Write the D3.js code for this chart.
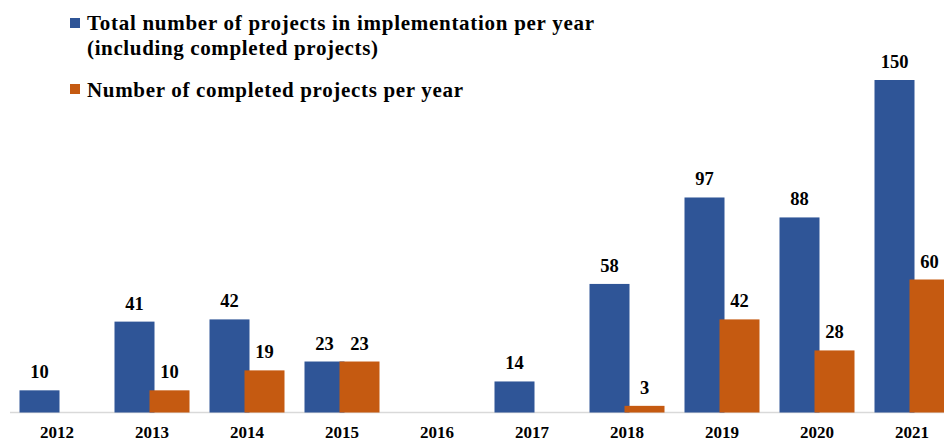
<!DOCTYPE html>
<html><head><meta charset="utf-8">
<script src="https://cdn.jsdelivr.net/npm/d3@7"></script>
<style>html,body{margin:0;padding:0;background:#fff;}svg{display:block;}</style>
</head><body>
<svg id="chart" width="944" height="441"></svg>
<script>
const years = ["2012","2013","2014","2015","2016","2017","2018","2019","2020","2021"];
const totalProjects = [10, 41, 42, 23, null, 14, 58, 97, 88, 150];
const completedProjects = [null, 10, 19, 23, null, null, 3, 42, 28, 60];
const seriesNames = ["Total number of projects in implementation per year", "(including completed projects)", "Number of completed projects per year"];
const colors = {total: "#2F5597", completed: "#C55A11"};

const svg = d3.select("#chart");
const FONT = "Liberation Serif";

const x = d3.scaleBand().domain(years).range([9.5, 959.5]).paddingInner(0).paddingOuter(0);
const y = d3.scaleLinear().domain([0, 150]).range([412.5, 80]);
const bw = 40;

svg.append("line").attr("x1", 10).attr("x2", 944).attr("y1", 412.5).attr("y2", 412.5)
  .attr("stroke", "#d9d9d9").attr("stroke-width", 1.5);

const cx = d => x(d) + x.bandwidth() / 2;

const totData = years.map((yr, i) => ({yr, v: totalProjects[i]})).filter(d => d.v != null);
const compData = years.map((yr, i) => ({yr, v: completedProjects[i]})).filter(d => d.v != null);

svg.selectAll("rect.tot").data(totData).join("rect").attr("class", "tot")
  .attr("x", d => cx(d.yr) - 37.5).attr("width", bw)
  .attr("y", d => y(d.v)).attr("height", d => y(0) - y(d.v))
  .attr("fill", colors.total);
svg.selectAll("rect.comp").data(compData).join("rect").attr("class", "comp")
  .attr("x", d => cx(d.yr) - 2.5).attr("width", bw)
  .attr("y", d => y(d.v)).attr("height", d => y(0) - y(d.v))
  .attr("fill", colors.completed);

function lbl(sel) {
  sel.attr("text-anchor", "middle").attr("font-family", FONT).attr("font-weight", "bold")
    .attr("font-size", 18.5).attr("fill", "#000");
}
svg.selectAll("text.tl").data(totData).join("text").attr("class", "tl")
  .attr("x", d => cx(d.yr) - 17.5).attr("y", d => y(d.v) - 12).call(lbl).text(d => d.v);
svg.selectAll("text.cl").data(compData).join("text").attr("class", "cl")
  .attr("x", d => cx(d.yr) + 17.5).attr("y", d => y(d.v) - 12).call(lbl).text(d => d.v);

const xAxis = d3.axisBottom(x).tickSize(0).tickPadding(0);
const gx = svg.append("g").attr("transform", "translate(0,438)").call(xAxis);
gx.select(".domain").remove();
gx.attr("font-family", FONT).attr("font-size", 17).attr("font-weight", "bold");
gx.selectAll("text").attr("fill", "#000").attr("dy", 0).attr("y", 0);

const lg = svg.append("g").attr("font-family", FONT).attr("font-weight", "bold").attr("font-size", 21);
lg.append("rect").attr("x", 70).attr("y", 18).attr("width", 10).attr("height", 10).attr("fill", colors.total);
lg.append("rect").attr("x", 70).attr("y", 84).attr("width", 10).attr("height", 10).attr("fill", colors.completed);
[[seriesNames[0], 30, 507], [seriesNames[1], 55, 291], [seriesNames[2], 97, 376]].forEach(([t, yy, w]) => {
  lg.append("text").attr("x", 87).attr("y", yy).attr("fill", "#000")
    .attr("textLength", w).attr("lengthAdjust", "spacing").text(t);
});
</script>
</body></html>
